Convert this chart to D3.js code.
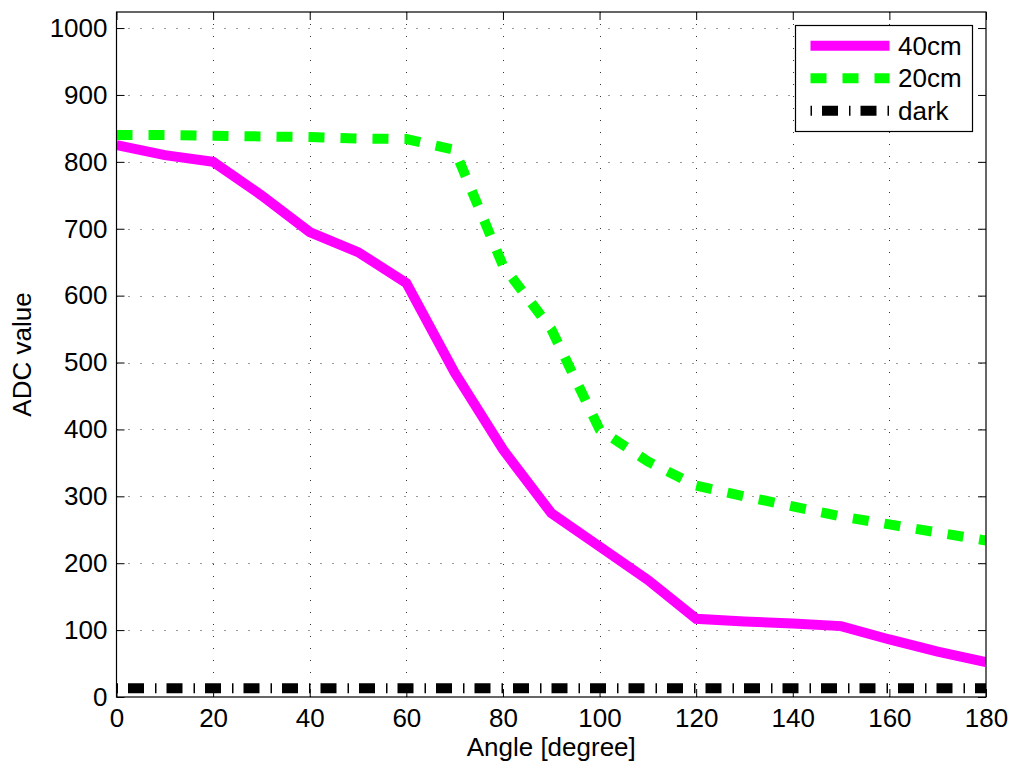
<!DOCTYPE html>
<html>
<head>
<meta charset="utf-8">
<script src="https://cdn.jsdelivr.net/npm/d3@7"></script>
<style>
  body { margin: 0; background: #fff; }
  text { font-family: "Liberation Sans", Arial, sans-serif; }
</style>
</head>
<body>
<div id="chart"></div>
<script>
// angles and readings
var angles = [0, 10, 20, 30, 40, 50, 60, 70, 80, 90, 100, 110, 120, 130, 140, 150, 160, 170, 180];
var adc40 = [825, 810, 800, 750, 695, 665, 619, 485, 370, 275, 225, 175, 117, 113, 110, 106, 86, 68, 52];
var adc20 = [840, 840, 839, 838, 837, 835, 834, 818, 645, 550, 400, 352, 316, 300, 285, 270, 258, 246, 234];
var adcDark = [13, 13, 13, 13, 13, 13, 13, 13, 13, 13, 13, 13, 13, 13, 13, 13, 13, 13, 13];
var xTicks = [0, 20, 40, 60, 80, 100, 120, 140, 160, 180];
var yTicks = [0, 100, 200, 300, 400, 500, 600, 700, 800, 900, 1000];
var seriesNames = ["40cm", "20cm", "dark"];

var width = 1014, height = 771;
var margin = {left: 116.5, right: 28, top: 12, bottom: 74};
var fontSize = "26px";

var svg = d3.select("#chart").append("svg")
    .attr("width", width)
    .attr("height", height);

var x = d3.scaleLinear()
    .domain([0, 180])
    .range([margin.left, width - margin.right]);

var y = d3.scaleLinear()
    .domain([0, 1024])
    .range([height - margin.bottom, margin.top]);

// grid lines
var grid = svg.append("g").attr("class", "grid");
grid.selectAll(".gx")
    .data(xTicks.slice(1, -1)).enter()
    .append("line")
    .attr("x1", function(d) { return Math.round(x(d)) + 0.5; })
    .attr("x2", function(d) { return Math.round(x(d)) + 0.5; })
    .attr("y1", y(0))
    .attr("y2", y(1024))
    .style("stroke", "#333")
    .style("stroke-width", 1)
    .style("stroke-dasharray", "1,11");
grid.selectAll(".gy")
    .data(yTicks.slice(1)).enter()
    .append("line")
    .attr("x1", x(0))
    .attr("x2", x(180))
    .attr("y1", function(d) { return Math.round(y(d)) + 0.5; })
    .attr("y2", function(d) { return Math.round(y(d)) + 0.5; })
    .style("stroke", "#333")
    .style("stroke-width", 1)
    .style("stroke-dasharray", "1,11");

svg.append("clipPath")
    .attr("id", "clip")
    .append("rect")
    .attr("x", x(0))
    .attr("y", y(1024))
    .attr("width", x(180) - x(0))
    .attr("height", y(0) - y(1024));

var line = d3.line()
    .x(function(d) { return x(d[0]); })
    .y(function(d) { return y(d[1]); });

var series = [
    {name: seriesNames[0], values: d3.zip(angles, adc40), color: "#ff00ff", dash: null},
    {name: seriesNames[1], values: d3.zip(angles, adc20), color: "#00ff00", dash: "16,16"},
    {name: seriesNames[2], values: d3.zip(angles, adcDark), color: "#000000", dash: "16,11,1.5,10"}
];

var lines = svg.append("g")
    .attr("clip-path", "url(#clip)");

lines.selectAll("path")
    .data(series).enter()
    .append("path")
    .attr("d", function(d) { return line(d.values); })
    .style("fill", "none")
    .style("stroke", function(d) { return d.color; })
    .style("stroke-width", 10)
    .style("stroke-dasharray", function(d) { return d.dash; })
    .style("stroke-linejoin", "miter")
    .style("stroke-dashoffset", function(d) { return d.name == "dark" ? 27 : 0; });

// axes: MATLAB style box with inward ticks
var tickLen = 8;
var fmt = d3.format("d");
svg.append("g")
    .attr("transform", "translate(0," + y(0) + ")")
    .call(d3.axisBottom(x).tickValues(xTicks).tickFormat(fmt).tickSizeInner(-tickLen).tickSizeOuter(0).tickPadding(12))
    .call(function(g) { g.select(".domain").remove(); });
svg.append("g")
    .attr("transform", "translate(0," + y(1024) + ")")
    .call(d3.axisTop(x).tickValues(xTicks).tickSizeInner(-tickLen).tickSizeOuter(0).tickFormat(""))
    .call(function(g) { g.select(".domain").remove(); });
svg.append("g")
    .attr("transform", "translate(" + x(0) + ",0)")
    .call(d3.axisLeft(y).tickValues(yTicks).tickFormat(fmt).tickSizeInner(-tickLen).tickSizeOuter(0).tickPadding(9))
    .call(function(g) { g.select(".domain").remove(); });
svg.append("g")
    .attr("transform", "translate(" + x(180) + ",0)")
    .call(d3.axisRight(y).tickValues(yTicks).tickSizeInner(-tickLen).tickSizeOuter(0).tickFormat(""))
    .call(function(g) { g.select(".domain").remove(); });

svg.selectAll(".tick text")
    .style("font-size", fontSize)
    .style("font-family", "'Liberation Sans', Arial, sans-serif")
    .style("fill", "#000");
svg.selectAll(".tick line").style("stroke", "#000");

svg.append("rect")
    .attr("x", x(0))
    .attr("y", y(1024))
    .attr("width", x(180) - x(0))
    .attr("height", y(0) - y(1024))
    .style("fill", "none")
    .style("stroke", "#000")
    .style("stroke-width", 1.2);

// axis labels
svg.append("text")
    .attr("x", (x(0) + x(180)) / 2)
    .attr("y", 756)
    .attr("text-anchor", "middle")
    .style("font-size", fontSize)
    .text("Angle [degree]");

svg.append("text")
    .attr("transform", "translate(31," + (y(0) + y(1024)) / 2 + ") rotate(-90)")
    .attr("text-anchor", "middle")
    .style("font-size", fontSize)
    .text("ADC value");

// legend
var legend = svg.append("g");
legend.append("rect")
    .attr("x", 795.5)
    .attr("y", 25.5)
    .attr("width", 177)
    .attr("height", 106)
    .style("fill", "#fff")
    .style("stroke", "#000")
    .style("stroke-width", 1.2);

var rows = legend.selectAll(".row")
    .data(series).enter()
    .append("g")
    .attr("transform", function(d, i) { return "translate(0," + (45.7 + i * 32.5) + ")"; });

rows.append("line")
    .attr("x1", 810.5)
    .attr("x2", 889.5)
    .style("stroke", function(d) { return d.color; })
    .style("stroke-width", 10)
    .style("stroke-dasharray", function(d) { return d.name == "dark" ? "1.5,10,16,11" : d.dash; });

rows.append("text")
    .attr("x", 898)
    .attr("y", 9)
    .style("font-size", fontSize)
    .text(function(d) { return d.name; });
</script>
</body>
</html>
